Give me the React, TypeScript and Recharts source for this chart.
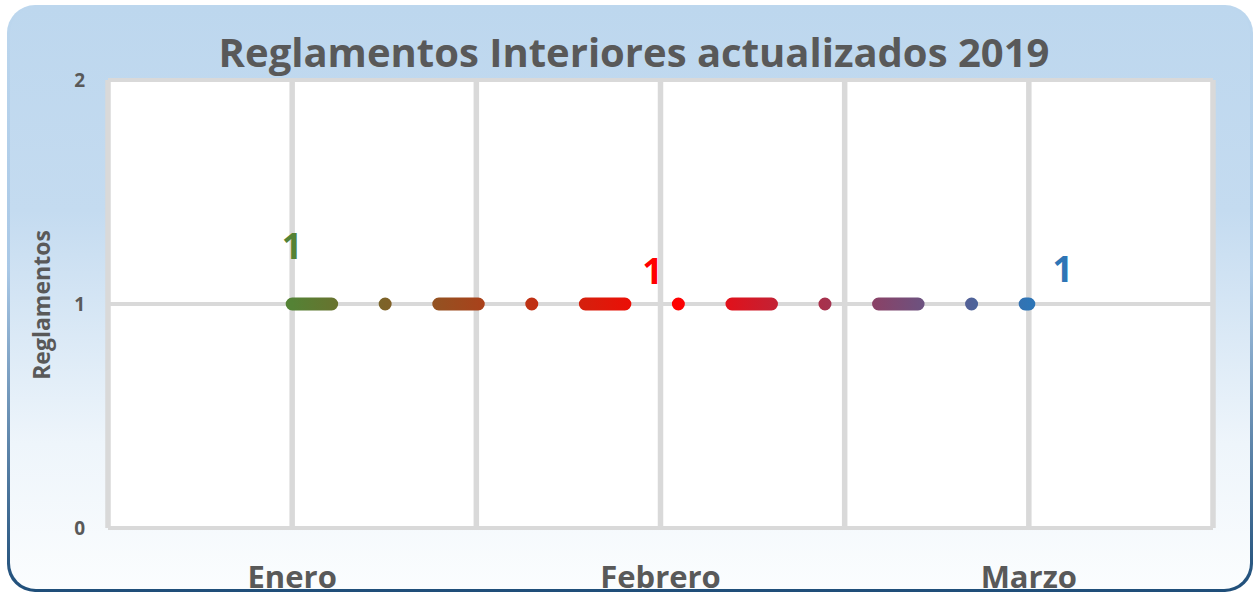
import React from "react";
import { ComposedChart, Line, XAxis, YAxis, CartesianGrid, LabelList, Label } from "recharts";

// datos
const months = ["Enero", "Febrero", "Marzo"];
const reglamentos = [1, 1, 1];
const yTicks = [0, 1, 2];

// estilo de las etiquetas de datos (color y desplazamiento por punto)
const labelColors = ["#548235", "#ff0000", "#2e75b6"];
const labelOffsets = [[0, -59], [-8, -34], [34, -36]];

const data = months.map((m, i) => ({ mes: m, valor: reglamentos[i] }));

if (typeof document !== "undefined") document.body.style.margin = "0";

const W = 1255;
const H = 594;
const M = { top: 80, right: 42, bottom: 0, left: 0 };
const Y_W = 108;
const X_H = 66;
const plotW = W - M.left - Y_W - M.right;
const half = plotW / (2 * months.length);
const FONT = "'Open Sans', Lato, sans-serif";
const GRAY = "#595959";

const DataLabel = (props: any) => {
  const { x, y, index, value } = props;
  const [dx, dy] = labelOffsets[index] || [0, -40];
  return (
    <text
      x={x + dx}
      y={y + dy}
      textAnchor="middle"
      dominantBaseline="central"
      fill={labelColors[index]}
      fontFamily={FONT}
      fontWeight={700}
      fontSize={36}
    >
      {value}
    </text>
  );
};

const verticalLines = ({ offset }: any) => {
  const left = offset?.left ?? M.left + Y_W;
  const width = offset?.width ?? plotW;
  const n = 2 * months.length;
  return Array.from({ length: n + 1 }, (_, i) => left + (i * width) / n);
};

export default function App() {
  return (
    <div style={{ position: "relative", width: W, height: H, overflow: "hidden" }}>
      <div
        style={{
          position: "absolute", left: 7, top: 5, width: 1246, height: 587,
          borderRadius: 28,
          background: "linear-gradient(to bottom, #bdd7ee 0%, #a9c8e6 45%, #1f4e79 100%)",
        }}
      />
      <div
        style={{
          position: "absolute", left: 10, top: 7, width: 1240, height: 582,
          borderRadius: 26,
          background: "linear-gradient(to bottom, #bdd7ee 0%, #c4dbf0 35%, #eef5fb 75%, #fbfdfe 100%)",
        }}
      />
      <div
        style={{
          position: "absolute", left: 0, top: 30, width: 1268, textAlign: "center",
          fontFamily: FONT, fontWeight: 700, fontSize: 40, color: GRAY, lineHeight: "44px",
        }}
      >
        Reglamentos Interiores actualizados 2019
      </div>
      <div style={{ position: "absolute", left: 0, top: 0 }}>
        <ComposedChart width={W} height={H} data={data} margin={M}>
          <defs>
            <linearGradient
              id="lineGrad"
              gradientUnits="userSpaceOnUse"
              x1={M.left + Y_W + half}
              y1={0}
              x2={M.left + Y_W + plotW - half}
              y2={0}
            >
              <stop offset="0%" stopColor="#548235" />
              <stop offset="52%" stopColor="#ff0000" />
              <stop offset="100%" stopColor="#2e75b6" />
            </linearGradient>
          </defs>
          <CartesianGrid vertical={false} stroke="#d9d9d9" strokeWidth={4} fill="#ffffff" />
          <CartesianGrid
            horizontal={false}
            stroke="#d9d9d9"
            strokeWidth={5.5}
            verticalCoordinatesGenerator={verticalLines}
          />
          <XAxis
            dataKey="mes"
            type="category"
            scale="band"
            height={X_H}
            axisLine={false}
            tickLine={false}
            tickSize={0}
            tickMargin={38}
            interval={0}
            tick={{ fill: GRAY, fontSize: 31, fontWeight: 700, fontFamily: FONT }}
          />
          <YAxis
            type="number"
            domain={[0, 2]}
            ticks={yTicks}
            width={Y_W}
            axisLine={false}
            tickLine={false}
            tickSize={0}
            tickMargin={23}
            tick={{ fill: GRAY, fontSize: 19, fontWeight: 700, fontFamily: FONT }}
          >
            <Label
              content={({ viewBox }: any) => {
                const cx = (viewBox?.x ?? 0) + 50;
                const cy = (viewBox?.y ?? M.top) + (viewBox?.height ?? 448) / 2 + 1;
                return (
                  <text
                    x={cx}
                    y={cy}
                    transform={`rotate(-90 ${cx} ${cy})`}
                    textAnchor="middle"
                    fill={GRAY}
                    fontFamily={FONT}
                    fontWeight={700}
                    fontSize={23}
                  >
                    Reglamentos
                  </text>
                );
              }}
            />
          </YAxis>
          <Line
            type="linear"
            dataKey="valor"
            stroke="url(#lineGrad)"
            strokeWidth={13}
            strokeLinecap="round"
            strokeDasharray="39.5 53.5 0 53.6"
            dot={false}
            activeDot={false}
            isAnimationActive={false}
          >
            <LabelList dataKey="valor" content={DataLabel} />
          </Line>
        </ComposedChart>
      </div>
    </div>
  );
}
